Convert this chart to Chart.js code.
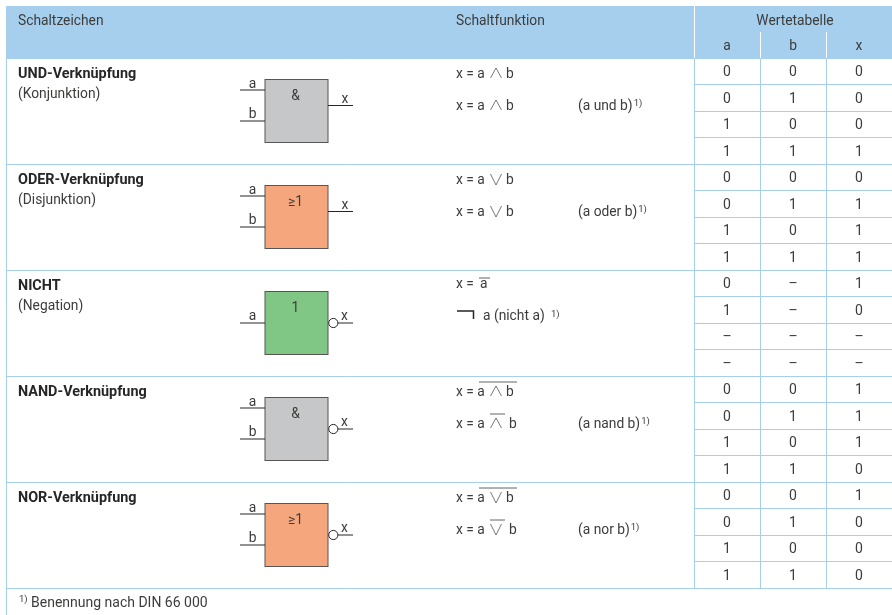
<!DOCTYPE html>
<html><head><meta charset="utf-8">
<style>html,body{margin:0;padding:0;background:#fff}canvas{display:block}</style>
<script src="https://cdn.jsdelivr.net/npm/chart.js@4"></script>
</head><body><canvas id="c" width="892" height="615"></canvas>
<script>
const columns = ['a','b','x'];
const gates = ['UND','ODER','NICHT','NAND','NOR'];
const inputA = ['0','0','1','1', '0','0','1','1', '0','1','–','–', '0','0','1','1', '0','0','1','1'];
const inputB = ['0','1','0','1', '0','1','0','1', '–','–','–','–', '0','1','0','1', '0','1','0','1'];
const outputX = ['0','0','0','1', '0','1','1','1', '1','0','–','–', '1','1','1','0', '1','0','0','0'];
const gateTitles = ['UND-Verknüpfung','ODER-Verknüpfung','NICHT','NAND-Verknüpfung','NOR-Verknüpfung'];
const gateSubtitles = ['(Konjunktion)','(Disjunktion)','(Negation)','',''];
const gateSymbols = ['&','≥1','1','&','≥1'];
const gateWords = ['(a und b)','(a oder b)','','(a nand b)','(a nor b)'];
const headerLabels = ['Schaltzeichen','Schaltfunktion','Wertetabelle'];
const footnote = 'Benennung nach DIN 66 000';
const rows = [];
gates.forEach(g => [1,2,3,4].forEach(n => rows.push(g + ' ' + n)));
const toPoints = (col, vals) => vals.map((v,i) => ({x: col, y: rows[i], t: v}));

const BLUE = '#a6cfee', INK = '#3c3c3b', DARK = '#262626';
const FONT = 'Roboto, sans-serif';
const FILLS = ['#c6c7c9','#f5a67c','#80c786','#c6c7c9','#f5a67c'];

function txt(ctx, s, x, y, o={}) {
  ctx.font = (o.bold ? 'bold ' : '') + (o.size || 13.8) + 'px ' + FONT;
  ctx.fillStyle = o.color || INK;
  ctx.textAlign = o.align || 'left';
  ctx.textBaseline = 'middle';
  ctx.fillText(s, x, y + 1.5);
}
function ln(ctx, pts, w, col) {
  ctx.beginPath();
  pts.forEach((p,i) => i ? ctx.lineTo(p[0],p[1]) : ctx.moveTo(p[0],p[1]));
  ctx.lineWidth = w; ctx.strokeStyle = col; ctx.stroke();
}
function wedge(ctx, x, cy, up) {
  const t = up ? cy + 5 : cy - 5, m = up ? cy - 5 : cy + 6;
  ln(ctx, [[x,t],[x+5.5,m],[x+11,t]], 0.7, INK);
}
function formula(ctx, i, top) {
  const y1 = top + 15, y2 = top + 47, up = i === 0 || i === 3;
  txt(ctx, 'x = a', 456, y1);
  wedge(ctx, 490.5, y1, up);
  txt(ctx, 'b', 506, y1);
  if (i > 2) ln(ctx, [[479,y1-9],[517,y1-9]], 0.8, INK);
  txt(ctx, 'x = a', 456, y2);
  wedge(ctx, 490.5, y2, up);
  const neg = i > 2;
  txt(ctx, 'b', neg ? 509 : 506, y2);
  if (neg) ln(ctx, [[490,y2-9],[505,y2-9]], 0.8, INK);
  txt(ctx, gateWords[i], 578, y2);
  const w = ctx.measureText(gateWords[i]).width;
  txt(ctx, '1)', 578 + w + 1, y2 - 3, {size: 9.5});
}
function notFormula(ctx, top) {
  txt(ctx, 'x =', 456, top + 13);
  txt(ctx, 'a', 480, top + 13);
  ln(ctx, [[479,top+8],[490,top+8]], 0.8, INK);
  ln(ctx, [[457,top+41],[473.5,top+41],[473.5,top+49]], 1.5, DARK);
  txt(ctx, 'a (nicht a)', 483, top + 45);
  txt(ctx, '1)', 551, top + 43, {size: 9.5});
}
function gate(ctx, i, top) {
  const bx = 265, by = top + 21.5, s = 63;
  const single = i === 2, inverted = i >= 2;
  ctx.fillStyle = FILLS[i]; ctx.fillRect(bx, by, s, s);
  ctx.lineWidth = 1; ctx.strokeStyle = '#555'; ctx.strokeRect(bx, by, s, s);
  txt(ctx, gateSymbols[i], 295.5, top + 37, {align:'center'});
  const mid = top + 53;
  if (single) {
    ln(ctx, [[240,mid],[265,mid]], 1, DARK);
    txt(ctx, 'a', 252.5, mid - 8, {align:'center'});
  } else {
    ln(ctx, [[240,top+32],[265,top+32]], 1, DARK);
    ln(ctx, [[240,top+63],[265,top+63]], 1, DARK);
    txt(ctx, 'a', 252.5, top + 25, {align:'center'});
    txt(ctx, 'b', 252.5, top + 55.5, {align:'center'});
  }
  const oy = top + 47.5 + (inverted ? 5.5 : 0);
  if (inverted) {
    ctx.beginPath(); ctx.arc(333.3, oy, 4.6, 0, 7);
    ctx.fillStyle = '#fff'; ctx.fill(); ctx.lineWidth = 1; ctx.strokeStyle = DARK; ctx.stroke();
    ln(ctx, [[338,oy],[353,oy]], 1, DARK);
    txt(ctx, 'x', 344.5, oy - 8, {align:'center'});
  } else {
    ln(ctx, [[328,oy],[353,oy]], 1, DARK);
    txt(ctx, 'x', 345, oy - 7, {align:'center'});
  }
}

const tablePlugin = {
  id: 'table',
  beforeDraw(chart) {
    const {ctx, chartArea: a, scales: {x}} = chart;
    ctx.save();
    ctx.fillStyle = '#fff'; ctx.fillRect(0,0,892,615);
    ctx.fillStyle = BLUE; ctx.fillRect(6, 6, 886, a.top - 6);
    ln(ctx, [[694.5,6],[694.5,a.top]], 1, '#fff');
    [1,2].forEach(i => {
      const p = Math.round(x.left + i*(x.right-x.left)/3) + 0.5;
      ln(ctx, [[p,32],[p,a.top]], 1, '#fff');
    });
    ctx.restore();
  },
  afterDatasetsDraw(chart) {
    const {ctx, chartArea: a, scales: {y}} = chart;
    const rowH = (a.bottom - a.top) / rows.length;
    ctx.save();
    txt(ctx, headerLabels[0], 18, 20);
    txt(ctx, headerLabels[1], 456, 20);
    txt(ctx, headerLabels[2], 795, 20, {align:'center'});
    ln(ctx, [[6.5,6],[6.5,615]], 1, BLUE);
    gates.forEach((g,i) => {
      const top = y.getPixelForValue(i*4) - rowH/2;
      const line = Math.round(top) + 0.5;
      ln(ctx, [[6.5,line],[694,line]], 1, BLUE);
      txt(ctx, gateTitles[i], 18, top + 15, {bold:true, size:14.4, color:DARK});
      if (gateSubtitles[i]) txt(ctx, gateSubtitles[i], 18, top + 35);
      gate(ctx, i, top);
      if (i === 2) notFormula(ctx, top); else formula(ctx, i, top);
    });
    ln(ctx, [[6.5,a.bottom+0.5],[694,a.bottom+0.5]], 1, BLUE);
    txt(ctx, '1)', 19, a.bottom + 10, {size:9.5});
    txt(ctx, footnote, 31, a.bottom + 14, {size:14});
    chart.data.datasets.forEach((ds,di) => {
      chart.getDatasetMeta(di).data.forEach((el,i) => {
        txt(ctx, ds.data[i].t, el.x, el.y, {align:'center', size:14});
      });
    });
    ctx.restore();
  }
};

new Chart(document.getElementById('c'), {
  type: 'scatter',
  data: { labels: rows, datasets: [
    {label:'a', data: toPoints('a', inputA)},
    {label:'b', data: toPoints('b', inputB)},
    {label:'x', data: toPoints('x', outputX)}
  ]},
  options: {
    responsive: false, animation: false,
    layout: {padding: {left: 694, top: 6, right: 0, bottom: 27}},
    elements: {point: {radius: 0, hoverRadius: 0}},
    plugins: {legend: {display:false}, tooltip: {enabled:false}},
    scales: {
      x: {type:'category', labels: columns, position:'top', offset:true,
        grid:{offset:true, color:BLUE, drawTicks:false, lineWidth:1},
        border:{display:false},
        ticks:{color:INK, font:{family:FONT,size:13.8}, padding:3, maxRotation:0},
        afterFit(s){ s.height = 52; }},
      y: {type:'category', labels: rows, offset:true,
        grid:{offset:true, color:BLUE, drawTicks:false, lineWidth:1},
        border:{display:false},
        ticks:{display:false},
        afterFit(s){ s.width = 0; }}
    }
  },
  plugins: [tablePlugin]
});
</script></body></html>
